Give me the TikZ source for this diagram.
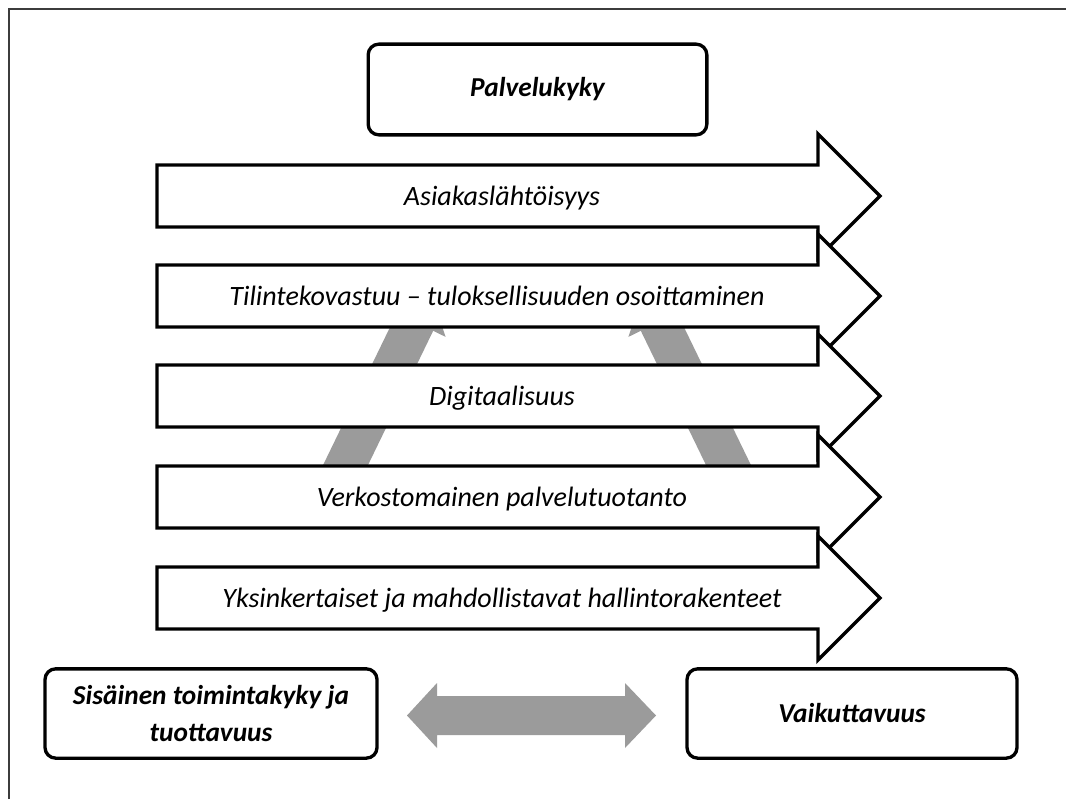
\documentclass[tikz,border=0pt]{standalone}
\usepackage{fontspec}
\setmainfont{Carlito}
\definecolor{barcolor}{RGB}{155,155,155}
\definecolor{framecolor}{RGB}{60,60,60}
\begin{document}
\begin{tikzpicture}[x=0.75pt,y=-0.75pt,
  blockarrow/.style={draw=black, line width=2.5pt, fill=white, line join=miter},
  lbl/.style={font=\itshape\fontsize{21}{25}\selectfont, inner sep=0pt, anchor=base},
  rbox/.style={draw=black, line width=2.5pt, rounded corners=8pt, fill=white,
    font=\bfseries\itshape\fontsize{20.5}{27.5}\selectfont, align=center, inner sep=0pt},
  graybar/.style={fill=barcolor, draw=none}]
\useasboundingbox (0,0) rectangle (1066,799);
% frame
\draw[framecolor, line width=1pt] (9,799) -- (9,9) -- (1066,9);
% gray curved arrows (behind)
\fill[graybar] (312.8,486.2) -- (396.8,313.2) -- (384.4,307.1) -- (430.3,290.5)
  -- (445.6,336.9) -- (433.2,330.8) -- (349.2,503.8) -- cycle;
\fill[graybar] (761.2,486.2) -- (677.2,313.2) -- (689.6,307.1) -- (643.7,290.5)
  -- (628.4,336.9) -- (640.8,330.8) -- (724.8,503.8) -- cycle;
% block arrows
\foreach \t in {165,265,365,466,567}{
  \draw[blockarrow] (157,\t) -- (818,\t) -- (818,\t-31) -- (880,\t+31)
    -- (818,\t+93) -- (818,\t+62) -- (157,\t+62) -- cycle;
}
\node[lbl] (a1) at (502,205) {Asiakaslähtöisyys};
\node[lbl] (a2) at (497,305) {Tilintekovastuu – tuloksellisuuden osoittaminen};
\node[lbl] (a3) at (502,405) {Digitaalisuus};
\node[lbl] (a4) at (502,506) {Verkostomainen palvelutuotanto};
\node[lbl] (a5) at (502,607) {Yksinkertaiset ja mahdollistavat hallintorakenteet};
% boxes
\node[rbox, minimum width=254pt, minimum height=68pt] (top) at (537.5,89.5) {Palvelukyky};
\node[rbox, minimum width=249pt, minimum height=67pt] (left) at (211,713.5) {Sisäinen toimintakyky ja\\tuottavuus};
\node[rbox, minimum width=247.5pt, minimum height=67pt] (right) at (852,713.5) {Vaikuttavuus};
% double gray arrow
\fill[graybar] (407,715.5) -- (437,683) -- (437,696) -- (625,696) -- (625,683)
  -- (656,715.5) -- (625,748) -- (625,735) -- (437,735) -- (437,748) -- cycle;
\end{tikzpicture}
\end{document}
